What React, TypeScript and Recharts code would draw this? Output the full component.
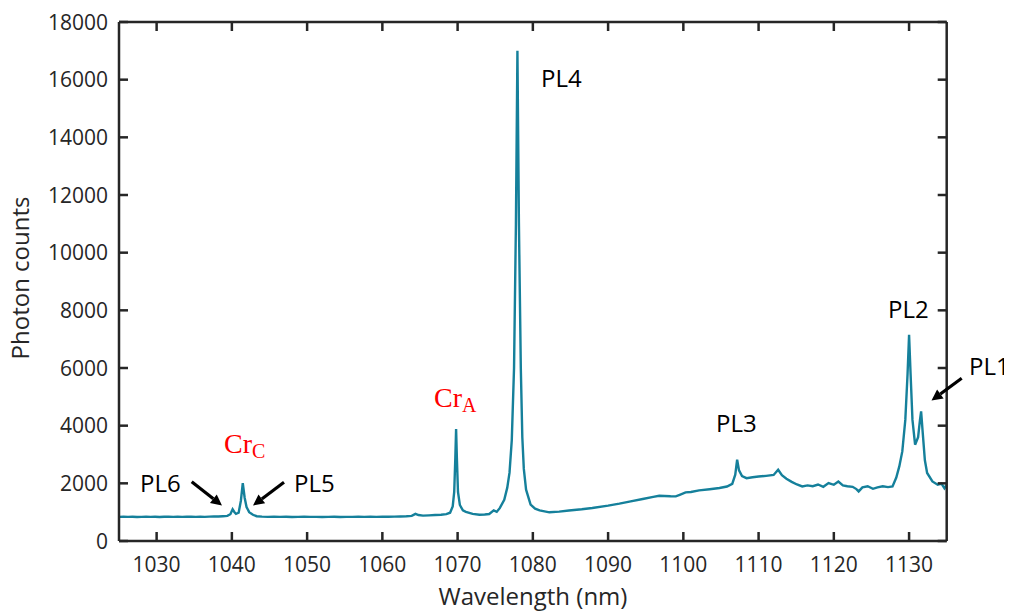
import React from "react";
import { LineChart, Line, XAxis, YAxis } from "recharts";

const wavelength: number[] = [
  1025, 1025.6, 1026.2, 1026.8, 1027.4, 1028, 1028.6, 1029.2, 1029.8, 1030.4, 1031, 1031.6, 1032.2, 1032.8, 1033.4,
  1034, 1034.6, 1035.2, 1035.8, 1036.4, 1037, 1037.6, 1038.2, 1038.8, 1039.4, 1039.8, 1040.1, 1040.35, 1040.55,
  1040.9, 1041.2, 1041.45, 1041.7, 1041.95, 1042.3, 1042.8, 1043.3, 1044, 1044.8, 1045.6, 1046.4, 1047.2, 1048,
  1048.8, 1049.6, 1050.4, 1051.2, 1052, 1052.8, 1053.6, 1054.4, 1055.2, 1056, 1056.8, 1057.6, 1058.4, 1059.2, 1060,
  1060.8, 1061.6, 1062.4, 1063.2, 1063.9, 1064.4, 1064.8, 1065.4, 1066.2, 1067, 1067.8, 1068.5, 1069, 1069.35,
  1069.55, 1069.7, 1069.8, 1069.9, 1070.05, 1070.3, 1070.7, 1071.1, 1072, 1072.9, 1073.6, 1074.2, 1074.8, 1075.2,
  1075.6, 1076.2, 1076.6, 1076.9, 1077.2, 1077.5, 1077.75, 1077.95, 1078.15, 1078.4, 1078.6, 1078.8, 1079.1, 1079.7,
  1080.3, 1080.9, 1082.2, 1083.5, 1084.8, 1086.5, 1087.9, 1090, 1091.5, 1093, 1094.6, 1096, 1096.8, 1097.5, 1098.3,
  1099, 1099.6, 1100.3, 1101, 1102.1, 1103.5, 1104.8, 1105.8, 1106.5, 1106.9, 1107.15, 1107.4, 1107.8, 1108.4,
  1109.2, 1110, 1111, 1112, 1112.6, 1113.1, 1113.7, 1114.4, 1115.1, 1115.8, 1116.5, 1117.2, 1117.9, 1118.6, 1119.3,
  1120, 1120.6, 1121.2, 1121.8, 1122.5, 1123, 1123.3, 1123.8, 1124.5, 1125.2, 1125.8, 1126.5, 1127.2, 1127.8, 1128.3,
  1128.7, 1129.1, 1129.5, 1129.8, 1130.0, 1130.2, 1130.45, 1130.8, 1131.2, 1131.45, 1131.6, 1131.8, 1132.1, 1132.4,
  1133.1, 1133.8, 1134.3, 1134.7, 1135,
];

const photonCounts: number[] = [
  838, 842, 835, 840, 832, 838, 843, 836, 840, 834, 839, 845, 837, 841, 835,
  840, 846, 838, 842, 837, 845, 850, 848, 858, 870, 930, 1100, 1000, 940,
  980, 1400, 2010, 1500, 1180, 1000, 910, 860, 845, 838, 842, 836, 840, 833,
  838, 842, 835, 838, 832, 837, 841, 834, 838, 835, 840, 836, 842, 838, 843,
  840, 846, 850, 856, 870, 940, 900, 880, 890, 900, 910, 930, 980, 1200,
  1700, 2900, 3880, 2900, 1700, 1250, 1060, 1010, 940, 912, 920, 935, 1060, 1010,
  1140, 1430, 1850, 2370, 3500, 6000, 11000, 17000, 11000, 6000, 3600, 2500, 1780, 1260,
  1120, 1060, 995, 1020, 1060, 1100, 1144, 1225, 1294, 1375, 1457, 1530, 1571, 1560, 1550,
  1547, 1610, 1685, 1700, 1755, 1795, 1838, 1890, 1980, 2300, 2820, 2450, 2250, 2180,
  2210, 2235, 2260, 2290, 2470, 2280, 2160, 2050, 1960, 1894, 1930, 1900, 1960, 1880, 2010,
  1950, 2060, 1930, 1900, 1880, 1800, 1720, 1860, 1900, 1810, 1860, 1900, 1870, 1893, 2200,
  2587, 3107, 4200, 5800, 7155, 5800, 4200, 3340, 3600, 4200, 4495, 3800, 2800, 2358,
  2067, 1950, 1990, 1830, 1950,
];

const xTicks: number[] = [1030, 1040, 1050, 1060, 1070, 1080, 1090, 1100, 1110, 1120, 1130];
const yTicks: number[] = [0, 2000, 4000, 6000, 8000, 10000, 12000, 14000, 16000, 18000];

const data = wavelength.map((w, i) => ({ w, c: photonCounts[i] }));

const AXIS = "#262626";
const LINE = "#15809b";
const FONT = "'Open Sans', sans-serif";
const TICK_LEN = 9;

const BottomTick = (props: any) => {
  const { x, y, payload } = props;
  return (
    <g>
      <line x1={x} x2={x} y1={y} y2={y - TICK_LEN} stroke={AXIS} strokeWidth={2.5} />
      <text x={x} y={y + 31} textAnchor="middle" fontFamily={FONT} fontSize={21} fill="#262626">
        {payload.value}
      </text>
    </g>
  );
};
const TopTick = (props: any) => {
  const { x, y } = props;
  return <line x1={x} x2={x} y1={y} y2={y + TICK_LEN} stroke={AXIS} strokeWidth={2.5} />;
};
const LeftTick = (props: any) => {
  const { x, y, payload } = props;
  return (
    <g>
      <line x1={x} x2={x + TICK_LEN} y1={y} y2={y} stroke={AXIS} strokeWidth={2.5} />
      <text x={x - 11} y={y + 7.5} textAnchor="end" fontFamily={FONT} fontSize={21} fill="#262626">
        {payload.value}
      </text>
    </g>
  );
};
const RightTick = (props: any) => {
  const { x, y } = props;
  return <line x1={x} x2={x - TICK_LEN} y1={y} y2={y} stroke={AXIS} strokeWidth={2.5} />;
};

const Arrow = ({ x1, y1, x2, y2 }: { x1: number; y1: number; x2: number; y2: number }) => {
  const dx = x2 - x1;
  const dy = y2 - y1;
  const len = Math.sqrt(dx * dx + dy * dy);
  const ux = dx / len;
  const uy = dy / len;
  const hl = 11;
  const hw = 5.5;
  const bx = x2 - ux * hl;
  const by = y2 - uy * hl;
  const pts = `${x2},${y2} ${bx - uy * hw},${by + ux * hw} ${bx + uy * hw},${by - ux * hw}`;
  return (
    <g>
      <line x1={x1} y1={y1} x2={bx} y2={by} stroke="#000" strokeWidth={3.2} />
      <polygon points={pts} fill="#000" />
    </g>
  );
};

const O = 8; // body margin offset

export default function App() {
  return (
    <div style={{ position: "relative", width: 996, height: 604 }}>
      <LineChart width={996} height={596} data={data} margin={{ top: 12, right: 55.3, left: 0, bottom: 0 }}>
        <XAxis
          dataKey="w"
          type="number"
          domain={[1025, 1135]}
          ticks={xTicks}
          height={63}
          tickSize={0}
          tickMargin={0}
          tickLine={false}
          axisLine={{ stroke: AXIS, strokeWidth: 2.5 }}
          tick={<BottomTick />}
          allowDataOverflow
        />
        <XAxis
          xAxisId="top"
          dataKey="w"
          type="number"
          orientation="top"
          domain={[1025, 1135]}
          ticks={xTicks}
          height={2}
          tickSize={0}
          tickMargin={0}
          tickLine={false}
          axisLine={{ stroke: AXIS, strokeWidth: 2.5 }}
          tick={<TopTick />}
          allowDataOverflow
        />
        <YAxis
          type="number"
          domain={[0, 18000]}
          ticks={yTicks}
          width={111}
          tickSize={0}
          tickMargin={0}
          tickLine={false}
          axisLine={{ stroke: AXIS, strokeWidth: 2.5 }}
          tick={<LeftTick />}
          allowDataOverflow
        />
        <YAxis
          yAxisId="right"
          orientation="right"
          type="number"
          domain={[0, 18000]}
          ticks={yTicks}
          width={2}
          tickSize={0}
          tickMargin={0}
          tickLine={false}
          axisLine={{ stroke: AXIS, strokeWidth: 2.5 }}
          tick={<RightTick />}
          allowDataOverflow
        />
        <Line
          type="linear"
          dataKey="c"
          stroke={LINE}
          strokeWidth={2.4}
          dot={false}
          isAnimationActive={false}
        />
      </LineChart>
      <svg
        width={996}
        height={604}
        overflow="visible"
        style={{ position: "absolute", left: 0, top: 0, pointerEvents: "none", overflow: "visible" }}
      >
        <text
          transform={`translate(${29 - O},${278 - O}) rotate(-90)`}
          textAnchor="middle"
          fontFamily={FONT}
          fontSize={24}
          fill="#262626"
        >
          Photon counts
        </text>
        <text x={533 - O} y={605 - O} textAnchor="middle" fontFamily={FONT} fontSize={24} fill="#262626">
          Wavelength (nm)
        </text>

        <g fontFamily={FONT} fontSize={24} fill="#000">
          <text x={541 - O} y={87 - O}>PL4</text>
          <text x={716 - O} y={432 - O}>PL3</text>
          <text x={888 - O} y={318 - O}>PL2</text>
          <text x={969 - O} y={375 - O}>PL1</text>
          <text x={140 - O} y={492 - O}>PL6</text>
          <text x={294 - O} y={492 - O}>PL5</text>
        </g>

        <g fontFamily="'Liberation Serif', 'DejaVu Serif', serif" fill="#ff0000">
          <text x={224 - O} y={453 - O} fontSize={28}>
            Cr
            <tspan fontSize={20} dy={5}>C</tspan>
          </text>
          <text x={434 - O} y={407 - O} fontSize={28}>
            Cr
            <tspan fontSize={20} dy={5}>A</tspan>
          </text>
        </g>

        <Arrow x1={191.7 - O} y1={481.7 - O} x2={222 - O} y2={505.5 - O} />
        <Arrow x1={284 - O} y1={482.3 - O} x2={253 - O} y2={505.5 - O} />
        <Arrow x1={961.7 - O} y1={378.3 - O} x2={931.5 - O} y2={400.5 - O} />
      </svg>
    </div>
  );
}
